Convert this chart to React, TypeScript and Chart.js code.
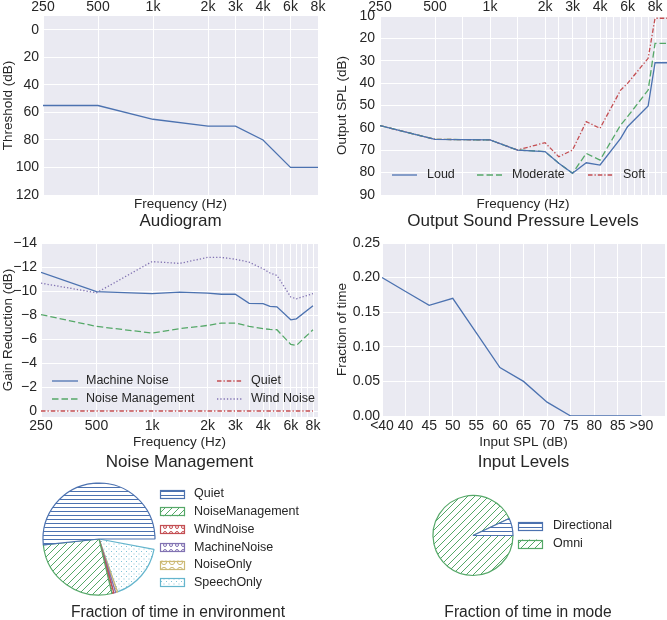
import React, { useEffect, useRef } from 'react';
import { Chart, registerables, LinearScale } from 'chart.js';

Chart.register(...registerables);

const FONT = '"Liberation Sans", Arial, Helvetica, sans-serif';
const TXT = '#262626';
const BG = '#EAEAF2';
const BLUE = '#4C72B0';
const GREEN = '#55A868';
const RED = '#C44E52';
const PURPLE = '#8172B2';
const YELLOW = '#CCB974';
const CYAN = '#64B5CD';

Chart.defaults.font.family = FONT;

// ---------- data ----------
// audiometric frequency axis: knots and their positions
const KNOT_F = [250, 500, 1000, 2000, 3000, 4000, 6000, 8000];
const KNOT_P = [0, 1, 2, 3, 3.5, 4, 4.5, 5];
const KNOT_P_NM = [0, 1, 2, 3, 3.5, 4, 4.5, 4.9];
const FREQ_TICKS = [250, 500, 1000, 2000, 3000, 4000, 6000, 8000];
const FREQ_TICK_LABELS = ['250', '500', '1k', '2k', '3k', '4k', '6k', '8k'];

// Audiogram
const AUD_FREQ = [250, 500, 1000, 2000, 3000, 4000, 6000, 8000];
const AUD_THRESHOLD = [55, 55, 65, 70, 70, 80, 100, 100];
const AUD_Y_TICKS = [0, 20, 40, 60, 80, 100, 120];

// Output sound pressure levels
const OSPL_FREQ = [250, 500, 1000, 1500, 2000, 2500, 3000, 3500, 4000, 5500, 6000, 7500, 8000, 9000];
const OSPL_LOUD = [59.0, 65.1, 65.4, 69.9, 70.6, 75.8, 80.3, 75.6, 76.6, 64.7, 59.5, 50.2, 30.9, 30.9];
const OSPL_MODERATE = [59.0, 65.1, 65.4, 69.9, 70.6, 75.8, 80.3, 71.4, 74.4, 58.7, 55.0, 43.1, 22.2, 22.2];
const OSPL_SOFT = [59.0, 65.1, 65.4, 69.9, 66.6, 72.9, 69.9, 57.2, 60.2, 43.1, 40.1, 28.9, 11.0, 11.0];
const OSPL_GRID = [250, 500, 750, 1000, 1500, 2000, 2500, 3000, 3500, 4000, 4500, 5000, 5500, 6000, 6500, 7000, 7500, 8000, 8500];
const OSPL_Y_TICKS = [10, 20, 30, 40, 50, 60, 70, 80, 90];

// Noise management
const NM_FREQ = [250, 500, 1000, 1500, 2000, 2500, 3000, 3500, 4000, 4500, 5000, 6000, 6500, 8000];
const NM_MACHINE = [-11.55, -9.95, -9.78, -9.9, -9.83, -9.73, -9.73, -8.97, -8.95, -8.72, -8.68, -7.6, -7.68, -8.78];
const NM_NOISE_MGMT = [-8.03, -7.05, -6.5, -6.86, -7.13, -7.33, -7.33, -7.05, -6.86, -6.8, -6.77, -5.55, -5.46, -6.77];
const NM_QUIET = [0, 0, 0, 0, 0, 0, 0, 0, 0, 0, 0, 0, 0, 0];
const NM_WIND = [-10.65, -9.85, -12.45, -12.3, -12.8, -12.8, -12.65, -12.4, -11.85, -11.5, -11.3, -9.5, -9.35, -9.78];
const NM_GRID = [250, 500, 1000, 1500, 2000, 2500, 3000, 3500, 4000, 4500, 5000, 5500, 6000, 6500, 7000, 7500, 8000];
const NM_Y_TICKS = [-14, -12, -10, -8, -6, -4, -2, 0];

// Input levels
const INPUT_LABELS = ['<40', '40', '45', '50', '55', '60', '65', '70', '75', '80', '85', '>90'];
const INPUT_FRACTION = [0.2, 0.18, 0.16, 0.17, 0.12, 0.07, 0.05, 0.02, 0, 0, 0, 0];
const INPUT_Y_TICKS = [0, 0.05, 0.1, 0.15, 0.2, 0.25];

// Environment pie
const ENV_LABELS = ['Quiet', 'NoiseManagement', 'WindNoise', 'MachineNoise', 'NoiseOnly', 'SpeechOnly'];
const ENV_FRACTION = [0.517, 0.27, 0.0055, 0.0055, 0.0055, 0.167];
const ENV_COLORS = [BLUE, GREEN, RED, PURPLE, YELLOW, CYAN];
const ENV_HATCH = ['hline', 'diag', 'circles', 'circles', 'bigcircles', 'dots'];

// Mode pie
const MODE_LABELS = ['Directional', 'Omni'];
const MODE_FRACTION = [0.07, 0.93];
const MODE_COLORS = [BLUE, GREEN];
const MODE_HATCH = ['hline', 'diag'];

// ---------- audiometric scale ----------
function freqToPos(f: number, kp: number[]): number {
  const n = KNOT_F.length;
  let i = 0;
  if (f >= KNOT_F[n - 1]) i = n - 2;
  else if (f > KNOT_F[0]) {
    while (i < n - 2 && f > KNOT_F[i + 1]) i++;
  }
  const t = (f - KNOT_F[i]) / (KNOT_F[i + 1] - KNOT_F[i]);
  return kp[i] + t * (kp[i + 1] - kp[i]);
}
function posToFreq(p: number, kp: number[]): number {
  const n = kp.length;
  let i = 0;
  if (p >= kp[n - 1]) i = n - 2;
  else if (p > kp[0]) {
    while (i < n - 2 && p > kp[i + 1]) i++;
  }
  const t = (p - kp[i]) / (kp[i + 1] - kp[i]);
  return KNOT_F[i] + t * (KNOT_F[i + 1] - KNOT_F[i]);
}

class AudiometricScale extends (LinearScale as any) {
  static id = 'audiometric';
  static defaults = {};
  knots() {
    return this.options.knotSet === 'nm' ? KNOT_P_NM : KNOT_P;
  }
  getPixelForValue(value: number) {
    if (value === null || value === undefined || isNaN(value)) return NaN;
    const kp = this.knots();
    const p0 = freqToPos(this.min, kp);
    const p1 = freqToPos(this.max, kp);
    return this.getPixelForDecimal((freqToPos(value, kp) - p0) / (p1 - p0));
  }
  getValueForPixel(pixel: number) {
    const kp = this.knots();
    const p0 = freqToPos(this.min, kp);
    const p1 = freqToPos(this.max, kp);
    return posToFreq(p0 + this.getDecimalForPixel(pixel) * (p1 - p0), kp);
  }
}
Chart.register(AudiometricScale as any);

// ---------- helpers ----------
const setTicks = (vals: number[]) => (s: any) => {
  s.ticks = vals.map((v) => ({ value: v }));
};
const freqLabel = (v: number) => {
  const i = FREQ_TICKS.indexOf(v);
  return i >= 0 ? FREQ_TICK_LABELS[i] : '';
};
const minus = (v: number) => (v < 0 ? '\u2212' + Math.abs(v) : String(v));

const TICK_FONT = { family: FONT, size: 14 };
const LABEL_FONT = { family: FONT, size: 13.5 };
const TITLE_SIZE = 17;
const PIE_TITLE_SIZE = 15.6;
const LEGEND_SIZE = 12.5;

const gridOpts = { color: '#FFFFFF', lineWidth: 1, drawTicks: false };
const borderOff = { display: false };

const bgPlugin = {
  id: 'bgPlot',
  beforeDraw(chart: any) {
    const a = chart.chartArea;
    if (!a) return;
    const ctx = chart.ctx;
    ctx.save();
    ctx.fillStyle = BG;
    ctx.fillRect(a.left, a.top, a.right - a.left, a.bottom - a.top);
    ctx.restore();
  },
};

type TextItem = { text: string; x: number; y: number; size: number };
function textPlugin(items: TextItem[]) {
  return {
    id: 'texts',
    afterDraw(chart: any) {
      const ctx = chart.ctx;
      ctx.save();
      for (const t of items) {
        ctx.font = `${t.size}px ${FONT}`;
        ctx.fillStyle = TXT;
        ctx.textAlign = 'center';
        ctx.textBaseline = 'middle';
        ctx.fillText(t.text, t.x, t.y);
      }
      ctx.restore();
    },
  };
}

function lineLegendPlugin(pos: { x: number; y: number }[], sampleLen: number, gap: number) {
  return {
    id: 'lineLegend',
    afterDraw(chart: any) {
      const ctx = chart.ctx;
      ctx.save();
      chart.data.datasets.forEach((ds: any, i: number) => {
        const p = pos[i];
        if (!p) return;
        ctx.strokeStyle = ds.borderColor;
        ctx.lineWidth = ds.borderWidth;
        ctx.setLineDash(ds.borderDash || []);
        ctx.beginPath();
        ctx.moveTo(p.x, p.y);
        ctx.lineTo(p.x + sampleLen, p.y);
        ctx.stroke();
        ctx.setLineDash([]);
        ctx.font = `${LEGEND_SIZE}px ${FONT}`;
        ctx.fillStyle = TXT;
        ctx.textAlign = 'left';
        ctx.textBaseline = 'middle';
        ctx.fillText(ds.label, p.x + sampleLen + gap, p.y);
      });
      ctx.restore();
    },
  };
}

function makePattern(ctx: CanvasRenderingContext2D, kind: string, color: string): CanvasPattern {
  const c = document.createElement('canvas');
  let s = 6;
  if (kind === 'hline') s = 4;
  if (kind === 'diag') s = 7;
  if (kind === 'dots') s = 5;
  if (kind === 'circles') s = 6;
  if (kind === 'bigcircles') s = 8;
  c.width = s;
  c.height = s;
  const g = c.getContext('2d') as CanvasRenderingContext2D;
  g.fillStyle = '#FFFFFF';
  g.fillRect(0, 0, s, s);
  g.strokeStyle = color;
  g.fillStyle = color;
  g.lineWidth = 1;
  if (kind === 'hline') {
    g.fillRect(0, 1, s, 1);
  } else if (kind === 'diag') {
    g.beginPath();
    g.moveTo(0, s);
    g.lineTo(s, 0);
    g.moveTo(-1, 1);
    g.lineTo(1, -1);
    g.moveTo(s - 1, s + 1);
    g.lineTo(s + 1, s - 1);
    g.stroke();
  } else if (kind === 'dots') {
    g.globalAlpha = 0.8;
    g.fillRect(1, 1, 1, 1);
    g.fillRect(3.5, 3.5, 1, 1);
  } else if (kind === 'circles') {
    g.beginPath();
    g.arc(s / 2, s / 2, 1.5, 0, Math.PI * 2);
    g.stroke();
  } else if (kind === 'bigcircles') {
    g.beginPath();
    g.arc(s / 2, s / 2, 2.6, 0, Math.PI * 2);
    g.stroke();
  }
  return ctx.createPattern(c, 'repeat') as CanvasPattern;
}

function pieLegendPlugin(
  labels: string[],
  colors: string[],
  patterns: CanvasPattern[],
  boxX: number,
  rowY: number[],
  boxW: number,
  boxH: number,
  textX: number
) {
  return {
    id: 'pieLegend',
    afterDraw(chart: any) {
      const ctx = chart.ctx;
      ctx.save();
      labels.forEach((lab, i) => {
        const y = rowY[i];
        ctx.fillStyle = patterns[i];
        ctx.fillRect(boxX, y - boxH / 2, boxW, boxH);
        ctx.strokeStyle = colors[i];
        ctx.lineWidth = 1.2;
        ctx.strokeRect(boxX + 0.5, Math.round(y - boxH / 2) + 0.5, boxW - 1, boxH - 1);
        ctx.font = `${LEGEND_SIZE}px ${FONT}`;
        ctx.fillStyle = TXT;
        ctx.textAlign = 'left';
        ctx.textBaseline = 'middle';
        ctx.fillText(lab, textX, y);
      });
      ctx.restore();
    },
  };
}

const pts = (xs: number[], ys: number[]) => xs.map((x, i) => ({ x, y: ys[i] }));
const lineDs = (label: string, xs: number[], ys: number[], color: string, dash: number[] = []) => ({
  label,
  data: pts(xs, ys),
  borderColor: color,
  backgroundColor: color,
  borderWidth: 1.3,
  borderDash: dash,
  pointRadius: 0,
  fill: false,
  tension: 0,
});

const DASHED = [6.5, 3];
const DOTTED = [1.3, 2];
const DASHDOT = [4.5, 2, 1.3, 2];

const baseOpts = {
  responsive: false,
  animation: false as const,
  events: [] as any[],
  plugins: { legend: { display: false }, tooltip: { enabled: false }, title: { display: false } },
};

// ---------- configs ----------
function audiogramConfig() {
  return {
    type: 'line',
    data: { datasets: [lineDs('Audiogram', AUD_FREQ, AUD_THRESHOLD, BLUE)] },
    options: {
      ...baseOpts,
      layout: { padding: { left: 0, top: 0, right: 12, bottom: 35 } },
      scales: {
        x: {
          type: 'audiometric',
          position: 'top',
          min: 250,
          max: 8000,
          afterBuildTicks: setTicks(FREQ_TICKS),
          afterFit: (s: any) => {
            s.height = 16;
            s.paddingLeft = 0;
            s.paddingRight = 0;
          },
          grid: gridOpts,
          border: borderOff,
          ticks: { color: TXT, font: TICK_FONT, padding: 0, autoSkip: false, maxRotation: 0, callback: (v: number) => freqLabel(v) },
        },
        y: {
          type: 'linear',
          reverse: true,
          min: -10,
          max: 120,
          afterBuildTicks: setTicks(AUD_Y_TICKS),
          afterFit: (s: any) => {
            s.width = 43;
          },
          grid: gridOpts,
          border: borderOff,
          ticks: { color: TXT, font: TICK_FONT, padding: 4, callback: (v: number) => String(v) },
          title: { display: true, text: 'Threshold (dB)', color: TXT, font: LABEL_FONT, padding: { top: 0, bottom: 0 } },
        },
      },
    },
    plugins: [
      bgPlugin,
      textPlugin([
        { text: 'Frequency (Hz)', x: 180.5, y: 204, size: 13.5 },
        { text: 'Audiogram', x: 180.5, y: 221, size: TITLE_SIZE },
      ]),
    ],
  };
}

function osplConfig() {
  return {
    type: 'line',
    data: {
      datasets: [
        lineDs('Loud', OSPL_FREQ, OSPL_LOUD, BLUE),
        lineDs('Moderate', OSPL_FREQ, OSPL_MODERATE, GREEN, DASHED),
        lineDs('Soft', OSPL_FREQ, OSPL_SOFT, RED, DASHDOT),
      ],
    },
    options: {
      ...baseOpts,
      layout: { padding: { left: 0, top: 0, right: 0, bottom: 35 } },
      scales: {
        x: {
          type: 'audiometric',
          position: 'top',
          min: 250,
          max: 8870,
          afterBuildTicks: setTicks(OSPL_GRID),
          afterFit: (s: any) => {
            s.height = 16;
            s.paddingLeft = 0;
            s.paddingRight = 0;
          },
          grid: gridOpts,
          border: borderOff,
          ticks: { color: TXT, font: TICK_FONT, padding: 0, autoSkip: false, maxRotation: 0, callback: (v: number) => freqLabel(v) },
        },
        y: {
          type: 'linear',
          reverse: true,
          min: 10,
          max: 90,
          afterBuildTicks: setTicks(OSPL_Y_TICKS),
          afterFit: (s: any) => {
            s.width = 50;
          },
          grid: gridOpts,
          border: borderOff,
          ticks: { color: TXT, font: TICK_FONT, padding: 5, callback: (v: number) => String(v) },
          title: { display: true, text: 'Output SPL (dB)', color: TXT, font: LABEL_FONT, padding: { top: 4.4, bottom: 0 } },
        },
      },
    },
    plugins: [
      bgPlugin,
      lineLegendPlugin(
        [
          { x: 62, y: 175 },
          { x: 147, y: 175 },
          { x: 258, y: 175 },
        ],
        25,
        10
      ),
      textPlugin([
        { text: 'Frequency (Hz)', x: 193, y: 204, size: 13.5 },
        { text: 'Output Sound Pressure Levels', x: 193, y: 221, size: TITLE_SIZE },
      ]),
    ],
  };
}

function noiseConfig() {
  return {
    type: 'line',
    data: {
      datasets: [
        lineDs('Machine Noise', NM_FREQ, NM_MACHINE, BLUE),
        lineDs('Noise Management', NM_FREQ, NM_NOISE_MGMT, GREEN, DASHED),
        lineDs('Quiet', NM_FREQ, NM_QUIET, RED, DASHDOT),
        lineDs('Wind Noise', NM_FREQ, NM_WIND, PURPLE, DOTTED),
      ],
    },
    options: {
      ...baseOpts,
      layout: { padding: { left: 0, top: 13, right: 12, bottom: 20 } },
      scales: {
        x: {
          type: 'audiometric',
          knotSet: 'nm',
          position: 'bottom',
          min: 250,
          max: 8450,
          afterBuildTicks: setTicks(NM_GRID),
          afterFit: (s: any) => {
            s.height = 33;
            s.paddingLeft = 0;
            s.paddingRight = 0;
          },
          grid: gridOpts,
          border: borderOff,
          ticks: { color: TXT, font: TICK_FONT, padding: 1, autoSkip: false, maxRotation: 0, callback: (v: number) => freqLabel(v) },
          title: { display: true, text: 'Frequency (Hz)', color: TXT, font: LABEL_FONT, padding: { top: 0, bottom: 0 } },
        },
        y: {
          type: 'linear',
          reverse: true,
          min: -14,
          max: 0.5,
          afterBuildTicks: setTicks(NM_Y_TICKS),
          afterFit: (s: any) => {
            s.width = 41;
          },
          grid: gridOpts,
          border: borderOff,
          ticks: { color: TXT, font: TICK_FONT, padding: 4, callback: (v: number) => minus(v) },
          title: { display: true, text: 'Gain Reduction (dB)', color: TXT, font: LABEL_FONT, padding: { top: 0, bottom: 0 } },
        },
      },
    },
    plugins: [
      bgPlugin,
      lineLegendPlugin(
        [
          { x: 52, y: 151 },
          { x: 52, y: 169 },
          { x: 217, y: 151 },
          { x: 217, y: 169 },
        ],
        26,
        8
      ),
      textPlugin([{ text: 'Noise Management', x: 179.5, y: 232, size: TITLE_SIZE }]),
    ],
  };
}

function inputConfig() {
  return {
    type: 'line',
    data: {
      datasets: [lineDs('Input', INPUT_LABELS.map((_, i) => i), INPUT_FRACTION, BLUE)],
    },
    options: {
      ...baseOpts,
      layout: { padding: { left: 0, top: 13, right: 2, bottom: 20 } },
      scales: {
        x: {
          type: 'linear',
          position: 'bottom',
          min: 0,
          max: INPUT_LABELS.length,
          afterBuildTicks: (s: any) => {
            s.ticks = INPUT_LABELS.map((_, i) => ({ value: i }));
          },
          afterFit: (s: any) => {
            s.height = 34;
            s.paddingLeft = 0;
            s.paddingRight = 0;
          },
          grid: gridOpts,
          border: borderOff,
          ticks: { color: TXT, font: TICK_FONT, padding: 2, autoSkip: false, maxRotation: 0, callback: (v: number) => INPUT_LABELS[v] ?? '' },
          title: { display: true, text: 'Input SPL (dB)', color: TXT, font: LABEL_FONT, padding: { top: 0, bottom: 0 } },
        },
        y: {
          type: 'linear',
          min: 0,
          max: 0.25,
          afterBuildTicks: setTicks(INPUT_Y_TICKS),
          afterFit: (s: any) => {
            s.width = 52;
          },
          grid: gridOpts,
          border: borderOff,
          ticks: { color: TXT, font: TICK_FONT, padding: 2, callback: (v: number) => v.toFixed(2) },
          title: { display: true, text: 'Fraction of time', color: TXT, font: LABEL_FONT, padding: { top: 4.4, bottom: 0 } },
        },
      },
    },
    plugins: [bgPlugin, textPlugin([{ text: 'Input Levels', x: 193.5, y: 232, size: TITLE_SIZE }])],
  };
}

function pieConfig(
  ctx: CanvasRenderingContext2D,
  labels: string[],
  fractions: number[],
  colors: string[],
  hatches: string[],
  radius: number,
  padding: any,
  legend: { boxX: number; rowY: number[]; textX: number },
  title: TextItem
) {
  const patterns = hatches.map((h, i) => makePattern(ctx, h, colors[i]));
  const total = fractions.reduce((a, b) => a + b, 0);
  const circ = 360 * Math.min(total, 1);
  const rev = <T,>(a: T[]) => [...a].reverse();
  return {
    type: 'pie',
    data: {
      labels: rev(labels),
      datasets: [
        {
          data: rev(fractions),
          backgroundColor: rev(patterns),
          borderColor: rev(colors),
          borderWidth: 1.2,
          radius,
        },
      ],
    },
    options: {
      ...baseOpts,
      rotation: 90 - circ,
      circumference: circ,
      layout: { padding },
    },
    plugins: [
      pieLegendPlugin(labels, colors, patterns, legend.boxX, legend.rowY, 25, 9, legend.textX),
      textPlugin([title]),
    ],
  };
}

// ---------- components ----------
function Panel({ left, top, width, height, build }: { left: number; top: number; width: number; height: number; build: (ctx: CanvasRenderingContext2D) => any }) {
  const ref = useRef<HTMLCanvasElement | null>(null);
  useEffect(() => {
    const c = ref.current;
    if (!c) return;
    const ctx = c.getContext('2d') as CanvasRenderingContext2D;
    const chart = new Chart(c, build(ctx));
    return () => chart.destroy();
  }, []);
  return (
    <canvas
      ref={ref}
      width={width}
      height={height}
      style={{ position: 'absolute', left, top, width, height, display: 'block' }}
    />
  );
}

export default function App() {
  return (
    <div style={{ position: 'absolute', left: 0, top: 0, width: 667, height: 620, background: '#FFFFFF', overflow: 'hidden' }}>
      <Panel left={0} top={0} width={330} height={230} build={() => audiogramConfig()} />
      <Panel left={330} top={0} width={337} height={230} build={() => osplConfig()} />
      <Panel left={0} top={230} width={330} height={240} build={() => noiseConfig()} />
      <Panel left={330} top={230} width={337} height={240} build={() => inputConfig()} />
      <Panel
        left={0}
        top={470}
        width={340}
        height={150}
        build={(ctx) =>
          pieConfig(
            ctx,
            ENV_LABELS,
            ENV_FRACTION,
            ENV_COLORS,
            ENV_HATCH,
            56,
            { left: 43, right: 185, top: 13, bottom: 25 },
            { boxX: 160, rowY: [24, 41.7, 59.3, 77.3, 95, 112.7], textX: 194 },
            { text: 'Fraction of time in environment', x: 178, y: 143, size: PIE_TITLE_SIZE }
          )
        }
      />
      <Panel
        left={340}
        top={470}
        width={327}
        height={150}
        build={(ctx) =>
          pieConfig(
            ctx,
            MODE_LABELS,
            MODE_FRACTION,
            MODE_COLORS,
            MODE_HATCH,
            40,
            { left: 93, right: 154, top: 25.5, bottom: 44.5 },
            { boxX: 178, rowY: [56, 74], textX: 213 },
            { text: 'Fraction of time in mode', x: 188, y: 143, size: PIE_TITLE_SIZE }
          )
        }
      />
    </div>
  );
}
